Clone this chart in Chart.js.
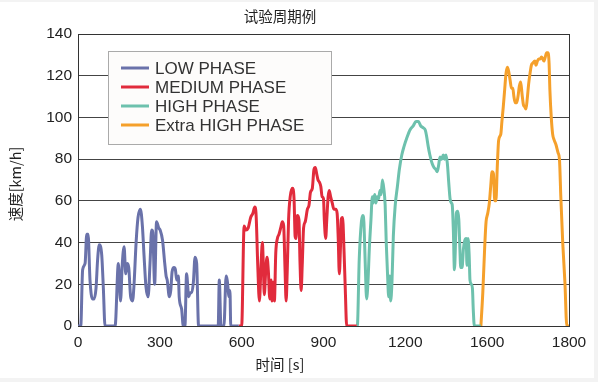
<!DOCTYPE html>
<html><head><meta charset="utf-8">
<script src="https://cdn.jsdelivr.net/npm/chart.js@4.4.1/dist/chart.umd.min.js"></script>
<style>html,body{margin:0;padding:0;background:#f3f3f3;}#wrap{width:598px;height:382px;position:relative}</style>
</head><body><div id="wrap"><canvas id="c" width="598" height="382"></canvas></div>
<script>
const chartTitle = "试验周期例";
const xAxisTitle = "时间 [s]";
const yAxisTitle = "速度[km/h]";
const seriesNames = ["LOW PHASE", "MEDIUM PHASE", "HIGH PHASE", "Extra HIGH PHASE"];
const seriesColors = ["#6a72aa", "#e12b3c", "#6dc1ad", "#f5a02b"];
const xTickValues = [0, 300, 600, 900, 1200, 1500, 1800];
const xTickLabels = ["0", "300", "600", "900", "1200", "1600", "1800"];

const lowTime = [0,10,17,26,32,37,44,53,59,66,72,78,87,93,99,136,148,156,162,169,175,180,186,193,200,205,213,220,229,236,242,249,257,264,270,274,281,288,296,301,310,318,323,327,335,340,345,352,357,362,368,371,380,386,392,398,406,411,417,423,429,435,442,514,518,524,535,543,547,554,557,560,589];
const lowSpeed = [0,0,27,30,44,44,22,13,13,18,32,39,34,18,0,0,30,12,29,38,25,30,28,14,12,19,40,52,56,48,34,19,14,30,46,45,20,50,47,46,41,30,24,22,14,17,26,28,27,22,24,14,8,0,0,25,14,16,16,21,33,30,0,0,22,0,0,24,22,14,17,0,0];

const mediumTime = [589,600,609,616,624,633,641,648,653,659,665,671,676,679,683,688,693,698,703,708,711,716,720,725,731,737,743,749,754,759,763,767,772,778,786,792,796,799,804,810,814,818,822,827,833,841,847,852,859,865,870,875,880,885,890,895,900,903,908,912,917,921,926,932,938,945,950,954,958,962,965,970,975,980,985,1022];
const mediumSpeed = [0,0,48,46,47,52,54,57,53,29,12,29,40,31,15,26,33,26,13,22,12,21,12,35,42,44,47,50,48,27,12,26,51,62,66,61,43,42,53,51,30,17,29,47,50,56,58,64,66,75,76,73,70,69,67,62,61,51,42,51,62,65,62,59,56,56,54,42,25,37,51,52,37,17,0,0];

const highTime = [1022,1024,1031,1039,1044,1048,1053,1058,1063,1068,1074,1079,1082,1088,1092,1097,1102,1107,1111,1116,1121,1126,1130,1135,1139,1143,1146,1151,1156,1163,1171,1178,1187,1195,1205,1217,1229,1239,1248,1256,1266,1273,1278,1284,1290,1298,1305,1312,1317,1322,1327,1333,1339,1344,1349,1354,1359,1364,1369,1372,1376,1380,1384,1387,1392,1396,1400,1403,1408,1413,1418,1423,1426,1430,1434,1437,1442,1446,1449,1453,1477];
const highSpeed = [0,0,32,50,53,50,30,13,21,37,51,62,59,63,59,62,61,65,63,70,66,58,40,24,14,24,12,21,43,58,67,75,82,86,90,94,96,98,98,96,95,94,91,86,82,78,76,75,74,77,81,80,82,80,82,78,69,61,59,58,46,27,40,54,55,51,37,28,28,37,41,42,29,42,34,22,20,18,8,0,0];

const extraTime = [1477,1484,1491,1496,1502,1508,1513,1518,1523,1528,1532,1537,1542,1550,1554,1559,1564,1569,1574,1579,1584,1589,1594,1598,1603,1608,1613,1618,1623,1628,1633,1638,1642,1647,1652,1657,1662,1667,1675,1679,1684,1689,1694,1699,1704,1708,1713,1718,1723,1727,1730,1735,1740,1746,1752,1760,1765,1770,1777,1785,1792,1800];
const extraSpeed = [0,16,38,50,54,59,67,74,73,60,60,76,89,92,98,105,113,121,124,122,118,114,114,110,107,107,110,115,117,111,106,105,104,109,116,121,125,126,127,125,127,128,128,129,128,127,129,131,131,126,113,100,92,89,87,83,80,62,40,21,0,0];

const seriesTimes = [lowTime, mediumTime, highTime, extraTime];
const seriesSpeeds = [lowSpeed, mediumSpeed, highSpeed, extraSpeed];

const LATIN = '"Liberation Sans", Arial, sans-serif';
const CJK = '"Noto Sans CJK SC", "Liberation Sans", sans-serif';

const datasets = seriesNames.map((name, i) => ({
  label: name,
  data: seriesTimes[i].map((t, j) => ({x: t, y: seriesSpeeds[i][j]})),
  borderColor: seriesColors[i],
  backgroundColor: seriesColors[i],
  borderWidth: 3,
  pointRadius: 0,
  cubicInterpolationMode: 'monotone',
  fill: false
}));

const decorPlugin = {
  id: 'decor',
  beforeDraw(chart) {
    const ctx = chart.ctx;
    ctx.save();
    ctx.fillStyle = '#f3f3f3';
    ctx.fillRect(0, 0, chart.width, chart.height);
    ctx.fillStyle = '#ffffff';
    ctx.fillRect(0, 2, 594, 376);
    ctx.restore();
  },
  beforeDatasetsDraw(chart) {
    const a = chart.chartArea, ctx = chart.ctx;
    ctx.save();
    ctx.strokeStyle = '#333';
    ctx.lineWidth = 1;
    ctx.strokeRect(Math.round(a.left) + 0.5, Math.round(a.top) + 0.5, Math.round(a.right - a.left), Math.round(a.bottom - a.top));
    ctx.restore();
  },
  afterDraw(chart) {
    const ctx = chart.ctx, a = chart.chartArea;
    ctx.save();
    ctx.fillStyle = '#222';
    ctx.textAlign = 'center';
    ctx.textBaseline = 'middle';
    ctx.font = '14.5px ' + CJK;
    ctx.fillText(chartTitle, 280, 16);
    ctx.fillText(xAxisTitle, 280, 364);
    ctx.save();
    ctx.translate(15, 184);
    ctx.rotate(-Math.PI / 2);
    ctx.fillText(yAxisTitle, 0, 0);
    ctx.restore();
    // legend
    const bx = 108.5, by = 51.5, bw = 223, bh = 93;
    ctx.fillStyle = '#fdfcfb';
    ctx.fillRect(bx, by, bw, bh);
    ctx.strokeStyle = '#aaaaaa';
    ctx.lineWidth = 1;
    ctx.strokeRect(bx, by, bw, bh);
    ctx.font = '17px ' + LATIN;
    ctx.textAlign = 'left';
    chart.data.datasets.forEach((ds, i) => {
      const y = 68 + i * 19;
      ctx.strokeStyle = ds.borderColor;
      ctx.lineWidth = 3;
      ctx.beginPath();
      ctx.moveTo(121, y);
      ctx.lineTo(149, y);
      ctx.stroke();
      ctx.fillStyle = '#333';
      ctx.fillText(ds.label, 155, y + 1);
    });
    ctx.restore();
  }
};

new Chart(document.getElementById('c'), {
  type: 'line',
  data: { datasets },
  options: {
    responsive: false,
    animation: false,
    devicePixelRatio: 1,
    layout: { padding: { left: 0, top: 34, right: 29, bottom: 26 } },
    plugins: { legend: { display: false }, title: { display: false }, tooltip: { enabled: false } },
    scales: {
      x: {
        type: 'linear', min: 0, max: 1800,
        afterBuildTicks(scale) { scale.ticks = xTickValues.map(v => ({value: v})); },
        afterFit(scale) { scale.height = 30; },
        grid: { display: false, drawTicks: false },
        border: { display: false },
        ticks: {
          padding: 7, color: '#222', font: { family: LATIN, size: 15.5 },
          maxRotation: 0, autoSkip: false,
          callback(v) { const k = xTickValues.indexOf(v); return k >= 0 ? xTickLabels[k] : ''; }
        }
      },
      y: {
        min: 0, max: 140,
        afterFit(scale) { scale.width = 78; },
        grid: { color: '#444', lineWidth: 1, drawTicks: false },
        border: { display: false },
        ticks: { stepSize: 20, padding: 6, color: '#222', font: { family: LATIN, size: 15.5 } }
      }
    }
  },
  plugins: [decorPlugin]
});
</script></body></html>
